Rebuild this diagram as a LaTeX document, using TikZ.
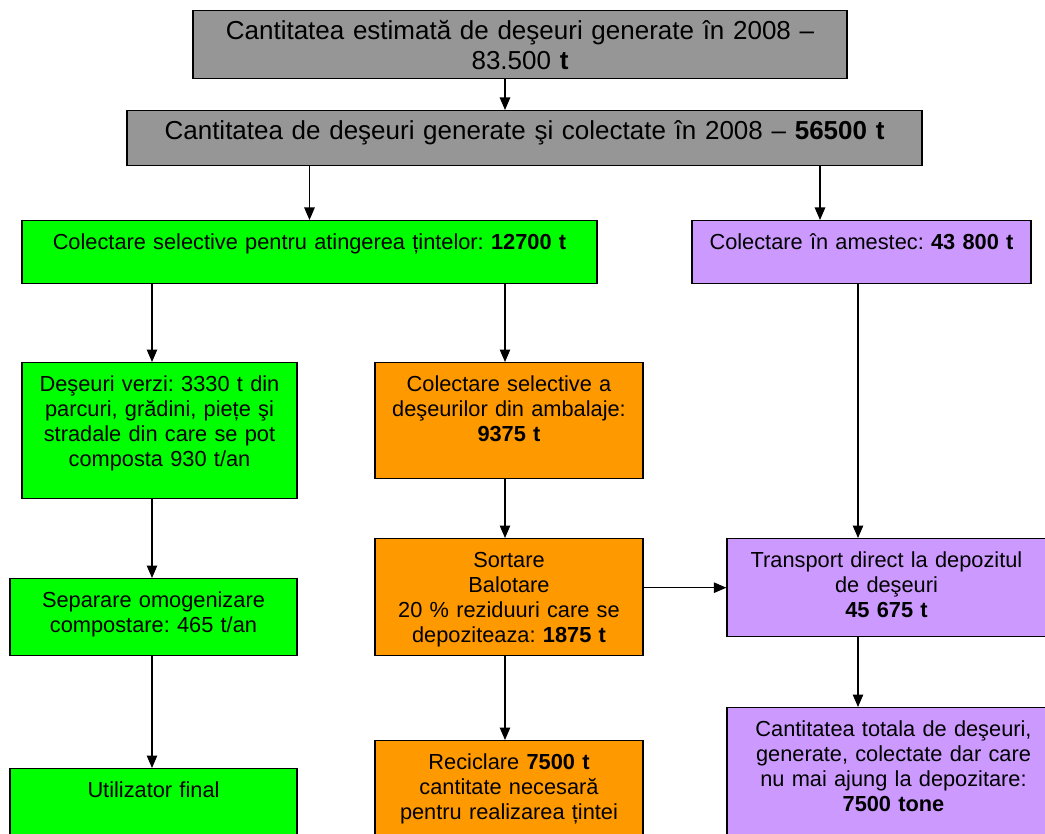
\documentclass[tikz,border=0pt]{standalone}
\usepackage{fontspec}
\setmainfont{Liberation Sans}
\usetikzlibrary{arrows.meta}
\definecolor{deseuGray}{RGB}{150,150,150}
\definecolor{deseuGreen}{RGB}{0,255,0}
\definecolor{deseuOrange}{RGB}{255,153,0}
\definecolor{deseuPurple}{RGB}{204,153,255}
\frenchspacing

\begin{document}
\begin{tikzpicture}[
  x=0.02cm,
  y=-0.02cm,
  stage/.style={
    draw,
    line width=0.8pt,
    anchor=north,
    inner sep=0pt,
    align=center,
    text height=0.58cm,
    font=\fontsize{12.4}{14.2}\selectfont
  },
  total/.style={stage,fill=deseuGray,font=\fontsize{14.8}{17}\selectfont},
  arrow/.style={-{Triangle[length=2.5mm,width=2.1mm]},line width=0.6pt}
]
  \useasboundingbox (0,0) rectangle (1045,834);
  \clip (0,0) rectangle (1045,834);

  \node[total,text width=13.08cm,text depth=0.78cm] (estimat) at (520,10) {Cantitatea estimată de deşeuri generate în 2008 –\\83.500 \textbf{t}};
  \node[total,text width=15.9cm,text depth=0.52cm] (colectat) at (524.5,110) {Cantitatea de deşeuri generate şi colectate în 2008 – \textbf{56500 t}};

  \node[stage,fill=deseuGreen,text width=11.5cm,text depth=0.68cm] (selectiv) at (309.5,220) {Colectare selective pentru atingerea țintelor: \textbf{12700 t}};
  \node[stage,fill=deseuPurple,text width=6.78cm,text depth=0.68cm] (amestec) at (861.5,220) {Colectare în amestec: \textbf{43 800 t}};

  \node[stage,fill=deseuGreen,text width=5.5cm,text depth=2.14cm] (verzi) at (159.5,362) {Deşeuri verzi: 3330 t din\\parcuri, grădini, piețe şi\\stradale din care se pot\\composta 930 t/an};
  \node[stage,fill=deseuOrange,text width=5.36cm,text depth=1.74cm] (ambalaje) at (509,362) {Colectare selective a\\deşeurilor din ambalaje:\\\textbf{9375 t}};
  \node[stage,fill=deseuOrange,text width=5.36cm,text depth=1.76cm] (sortare) at (509,538) {Sortare\\Balotare\\20 \% reziduuri care se\\depoziteaza: \textbf{1875 t}};
  \node[stage,fill=deseuPurple,text width=6.38cm,text depth=1.38cm] (transport) at (886.5,538) {Transport direct la depozitul\\de deşeuri\\\textbf{45 675 t}};
  \node[stage,fill=deseuGreen,text width=5.74cm,text depth=0.96cm] (separare) at (153.5,578) {Separare omogenizare\\compostare: 465 t/an};
  \node[stage,fill=deseuOrange,text width=5.36cm,text depth=1.62cm] (reciclare) at (509,740) {Reciclare \textbf{7500 t}\\cantitate necesară\\pentru realizarea țintei};
  \node[stage,fill=deseuGreen,text width=5.74cm,text depth=1.06cm] (utilizator) at (153.5,768) {Utilizator final};
  \node[stage,fill=deseuPurple,text width=6.66cm,text depth=2.28cm] (depozitare) at (893.5,707) {Cantitatea totala de deşeuri,\\generate, colectate dar care\\nu mai ajung la depozitare:\\\textbf{7500 tone}};

  % columns of the arrows
  \coordinate (colA) at (152,0);
  \coordinate (colB) at (505,0);
  \coordinate (colC) at (858,0);
  \coordinate (colD) at (820,0);

  \draw[arrow] (estimat.south -| colB) -- (colectat.north -| colB);
  \draw[arrow] (colectat.south -| selectiv.north) -- (selectiv.north);
  \draw[arrow] (colectat.south -| colD) -- (amestec.north -| colD);
  \draw[arrow] (selectiv.south -| colA) -- (verzi.north -| colA);
  \draw[arrow] (selectiv.south -| colB) -- (ambalaje.north -| colB);
  \draw[arrow] (amestec.south -| colC) -- (transport.north -| colC);
  \draw[arrow] (ambalaje.south -| colB) -- (sortare.north -| colB);
  \draw[arrow] (sortare.east |- transport.west) -- (transport.west);
  \draw[arrow] (verzi.south -| colA) -- (separare.north -| colA);
  \draw[arrow] (separare.south -| colA) -- (utilizator.north -| colA);
  \draw[arrow] (sortare.south -| colB) -- (reciclare.north -| colB);
  \draw[arrow] (transport.south -| colC) -- (depozitare.north -| colC);
\end{tikzpicture}
\end{document}
